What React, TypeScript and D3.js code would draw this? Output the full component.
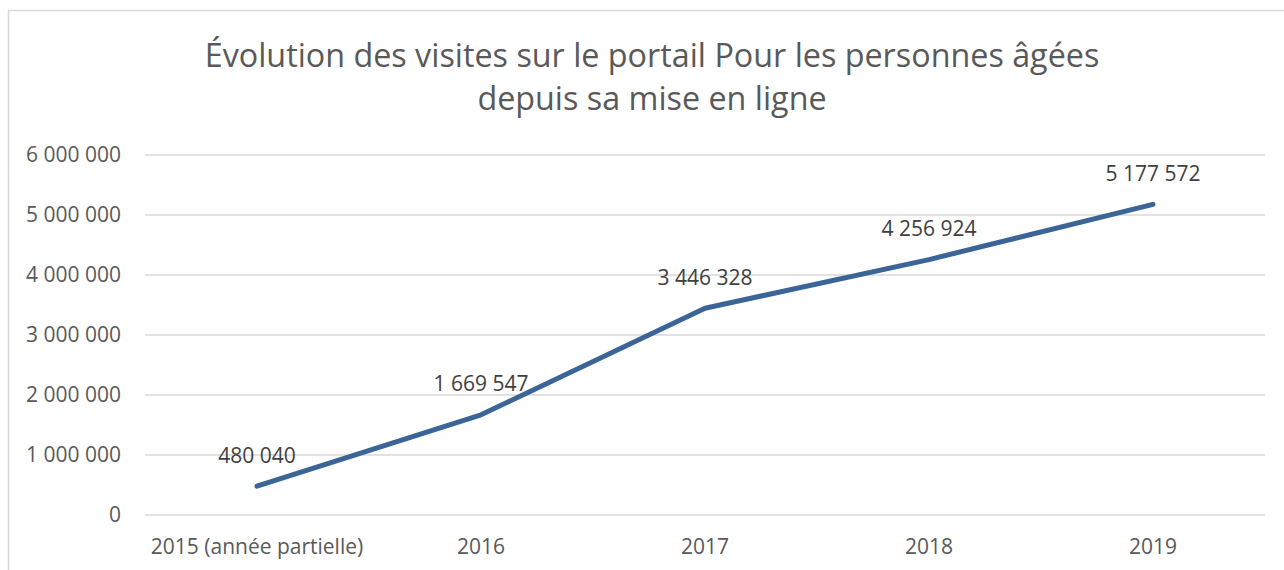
import React from "react";
import * as d3 from "d3";

const categories = ["2015 (année partielle)", "2016", "2017", "2018", "2019"];
const visits = [480040, 1669547, 3446328, 4256924, 5177572];
const yTicks = [0, 1000000, 2000000, 3000000, 4000000, 5000000, 6000000];
const titleLines = [
  "Évolution des visites sur le portail Pour les personnes âgées",
  "depuis sa mise en ligne",
];

const fmt = (v: number) =>
  String(v).replace(/\B(?=(\d{3})+(?!\d))/g, " ");

export default function App() {
  const W = 1284, H = 570;
  const left = 145, right = 1265, top = 155, bottom = 515;
  const x = d3.scaleBand<string>().domain(categories).range([left, right]);
  const y = d3.scaleLinear().domain([0, 6000000]).range([bottom, top]);
  const cx = (c: string) => (x(c) as number) + x.bandwidth() / 2;
  const line = d3
    .line<number>()
    .x((_, i) => cx(categories[i]))
    .y((d) => y(d));
  const font = "'Open Sans', sans-serif";
  const fs = 21;
  return (
    <svg
      width={W}
      height={H}
      style={{ position: "absolute", left: 0, top: 0, background: "#fff" }}
      fontFamily={font}
    >
      <rect x={8.5} y={10.5} width={1300} height={600} fill="#fff" stroke="#d9d9d9" strokeWidth={1.5} />
      {titleLines.map((t, i) => (
        <text
          key={i}
          x={652}
          y={67 + i * 43}
          textAnchor="middle"
          fontSize={32.3}
          fill="#595959"
        >
          {t}
        </text>
      ))}
      {yTicks.map((t) => (
        <g key={t}>
          <line x1={left} x2={right} y1={y(t)} y2={y(t)} stroke="#d9d9d9" strokeWidth={1.5} />
          <text x={121} y={y(t)} dy="0.35em" textAnchor="end" fontSize={fs} fill="#595959">
            {fmt(t)}
          </text>
        </g>
      ))}
      {categories.map((c) => (
        <text key={c} x={cx(c)} y={547} dy="0.35em" textAnchor="middle" fontSize={fs} fill="#595959">
          {c}
        </text>
      ))}
      <path
        d={line(visits) || ""}
        fill="none"
        stroke="#3b6497"
        strokeWidth={5}
        strokeLinecap="round"
        strokeLinejoin="round"
      />
      {visits.map((v, i) => (
        <text
          key={i}
          x={cx(categories[i])}
          y={y(v) - 31}
          dy="0.35em"
          textAnchor="middle"
          fontSize={fs}
          fill="#404040"
        >
          {fmt(v)}
        </text>
      ))}
    </svg>
  );
}
